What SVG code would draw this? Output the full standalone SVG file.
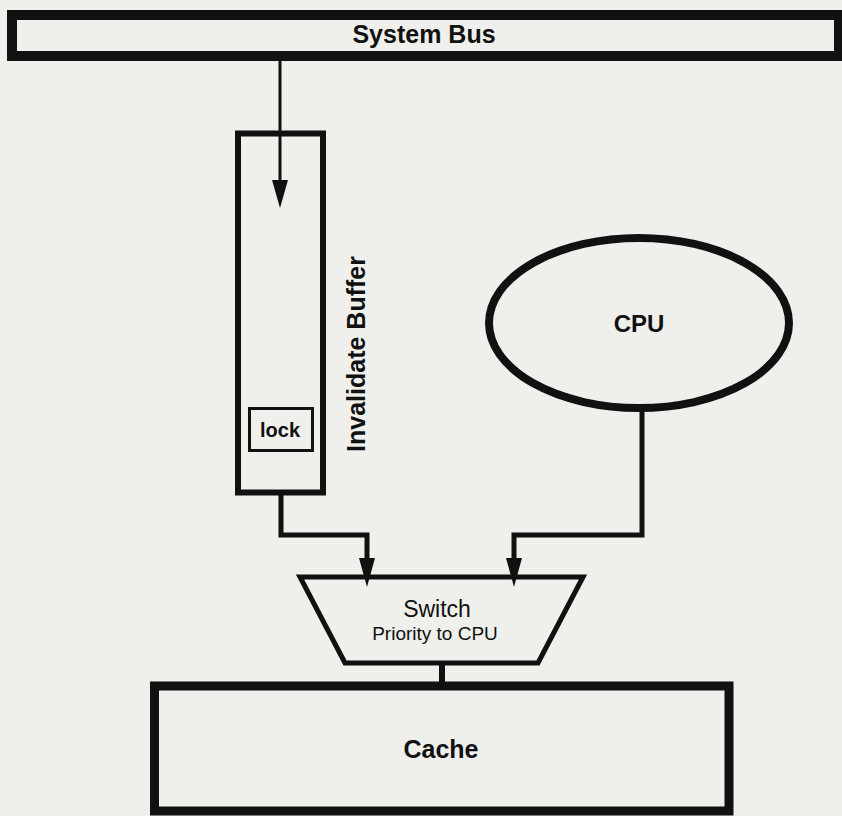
<svg xmlns="http://www.w3.org/2000/svg" width="842" height="816" viewBox="0 0 842 816">
<defs>
<style>
.box{fill:none;stroke:#111;stroke-linejoin:miter}
.lbl{font-family:"Liberation Sans",Arial,sans-serif;font-weight:bold;fill:#111;text-anchor:middle}
.reg{font-family:"Liberation Sans",Arial,sans-serif;fill:#111;text-anchor:middle}
.wire{fill:none;stroke:#111;stroke-width:5;stroke-linejoin:miter}
.head{fill:#111}
</style>
</defs>
<rect width="842" height="816" fill="#efefec"/>
<g id="system-bus">
<rect class="box" x="12" y="15" width="827" height="41" stroke-width="10"/>
<text class="lbl" x="424" y="43" font-size="25">System Bus</text>
</g>
<g id="invalidate-buffer">
<rect class="box" x="238" y="133.5" width="85" height="359" stroke-width="6"/>
<text class="lbl" font-size="25" transform="translate(365 354) rotate(-90)">Invalidate Buffer</text>
</g>
<g id="lock">
<rect class="box" x="249.5" y="408.5" width="63" height="42" stroke-width="3"/>
<text class="lbl" x="280" y="437" font-size="20">lock</text>
</g>
<g id="cpu">
<ellipse class="box" cx="639" cy="323" rx="150" ry="85" stroke-width="8"/>
<text class="lbl" x="639" y="332" font-size="24">CPU</text>
</g>
<g id="switch">
<polygon class="box" points="300,577 583,577 538,663 345,663" stroke-width="5"/>
<text class="reg" x="437" y="617" font-size="23">Switch</text>
<text class="reg" x="435" y="640" font-size="19">Priority to CPU</text>
</g>
<g id="cache">
<rect class="box" x="154.5" y="686" width="574.5" height="125" stroke-width="9"/>
<text class="lbl" x="441" y="758" font-size="25">Cache</text>
</g>
<g id="connectors">
<line x1="280" y1="60" x2="280" y2="182" stroke="#111" stroke-width="3"/>
<polygon class="head" points="272,180 288,180 280,208"/>
<polyline class="wire" points="281,492 281,535 367,535 367,560"/>
<polygon class="head" points="359,558 375,558 367,587"/>
<polyline class="wire" points="642,411 642,535 514,535 514,560"/>
<polygon class="head" points="506,558 522,558 514,587"/>
<line x1="442" y1="663" x2="442" y2="682" stroke="#111" stroke-width="6"/>
</g>
</svg>
